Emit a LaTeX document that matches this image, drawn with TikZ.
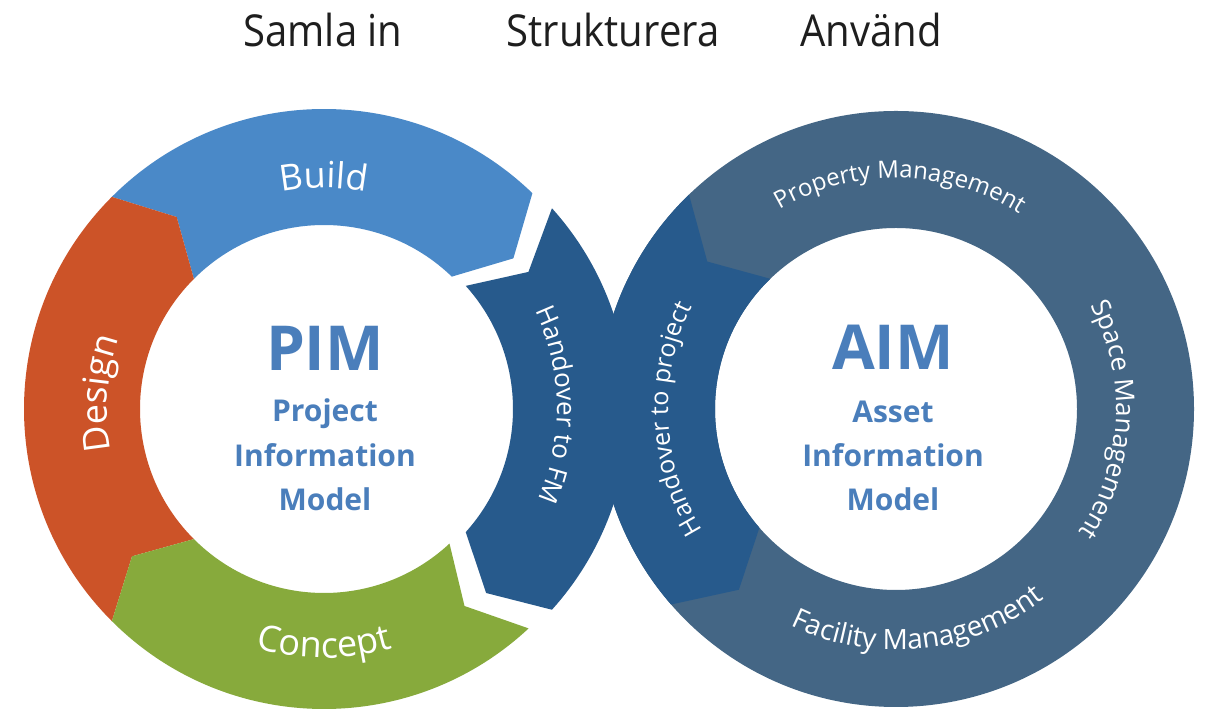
\documentclass[tikz,border=0pt]{standalone}
\usepackage{fontspec}
\setmainfont{Open Sans}
\usetikzlibrary{decorations.text}
\definecolor{buildc}{RGB}{74,137,200}
\definecolor{designc}{RGB}{204,83,40}
\definecolor{conceptc}{RGB}{135,170,60}
\definecolor{handc}{RGB}{39,90,140}
\definecolor{slatec}{RGB}{68,102,133}
\definecolor{innerc}{RGB}{74,126,187}
\definecolor{headc}{RGB}{30,30,30}
\newcommand{\fsz}[1]{\fontsize{#1}{#1}\selectfont}
\begin{document}
\begin{tikzpicture}[x=1pt,y=1pt,
  toplabel/.style={font=\fsz{44}, text=headc, anchor=base, inner sep=0pt},
  bigabbr/.style={font=\bfseries\fsz{62}, text=innerc, anchor=base, inner sep=0pt},
  subline/.style={font=\bfseries\fsz{30}, text=innerc, anchor=base, inner sep=0pt},
  arctext/.style={decorate, decoration={text along path, text align=center, text color=white, text={#1}}}
]
\useasboundingbox (0,0) rectangle (1205,711);
\fill[white] (0,0) rectangle (1205,711);

% ---------- right ring ----------
\fill[slatec, even odd rule] (896,302) circle[radius=298] (896,302) circle[radius=181];
\fill[handc, shift={(896,302)}] (134:298) arc[start angle=134, end angle=221, radius=298]
  -- (229:239.5) -- (221:181) arc[start angle=221, end angle=134, radius=181]
  -- (142:239.5) -- cycle;

% ---------- left ring ----------
\fill[buildc, shift={(324,302)}] (135:300) arc[start angle=135, end angle=46, radius=300]
  -- (38.5:242) -- (46:184) arc[start angle=46, end angle=135, radius=184]
  -- (127.5:242) -- cycle;
\fill[designc, shift={(324,302)}] (225:300) arc[start angle=225, end angle=135, radius=300]
  -- (127.5:242) -- (135:184) arc[start angle=135, end angle=225, radius=184]
  -- (217.5:242) -- cycle;
\fill[conceptc, shift={(324,302)}] (313:300) arc[start angle=313, end angle=225, radius=300]
  -- (217.5:242) -- (225:184) arc[start angle=225, end angle=313, radius=184]
  -- (305.5:242) -- cycle;
\fill[handc, shift={(329,302)}] (42:300) arc[start angle=42, end angle=-42, radius=300]
  -- (-49.5:242) -- (-42:184) arc[start angle=-42, end angle=42, radius=184]
  -- (34.5:242) -- cycle;

% ---------- ring labels ----------
\path[arctext={|\fsz{36}|Build}] (324,302) ++(115:221) arc[start angle=115, end angle=65, radius=221];
\path[arctext={|\fsz{36}|Design}] (324,302) ++(206:217) arc[start angle=206, end angle=146, radius=217];
\path[arctext={|\fsz{36}|Concept}] (324,302) ++(240:249) arc[start angle=240, end angle=300, radius=249];
\path[arctext={|\fsz{26}|Handover to FM}] (329,302) ++(41:228) arc[start angle=41, end angle=-39, radius=228];
\path[arctext={|\fsz{25}|Handover to project}] (896,302) ++(222.7:228) arc[start angle=222.7, end angle=142.7, radius=228];
\path[arctext={|\fsz{24}|Property Management}] (896,302) ++(129:231) arc[start angle=129, end angle=49, radius=231];
\path[arctext={|\fsz{26}|Space Management}] (896,302) ++(37:220) arc[start angle=37, end angle=-43, radius=220];
\path[arctext={|\fsz{28}|Facility Management}] (896,302) ++(231:241) arc[start angle=231, end angle=321, radius=241];

% ---------- top labels ----------
\node[toplabel] (samla) at (323,664) {\scalebox{0.91}[1]{Samla in}};
\node[toplabel] (strukt) at (613,664) {\scalebox{0.91}[1]{Strukturera}};
\node[toplabel] (anvand) at (871,664) {\scalebox{0.91}[1]{Använd}};

% ---------- centre texts ----------
\node[bigabbr] (pim) at (325,340) {PIM};
\node[subline] (pim1) at (325,289) {Project};
\node[subline] (pim2) at (325,244) {Information};
\node[subline] (pim3) at (325,200) {Model};
\node[bigabbr] (aim) at (893,341) {AIM};
\node[subline] (aim1) at (893,288) {Asset};
\node[subline] (aim2) at (893,244) {Information};
\node[subline] (aim3) at (893,200) {Model};
\end{tikzpicture}
\end{document}
